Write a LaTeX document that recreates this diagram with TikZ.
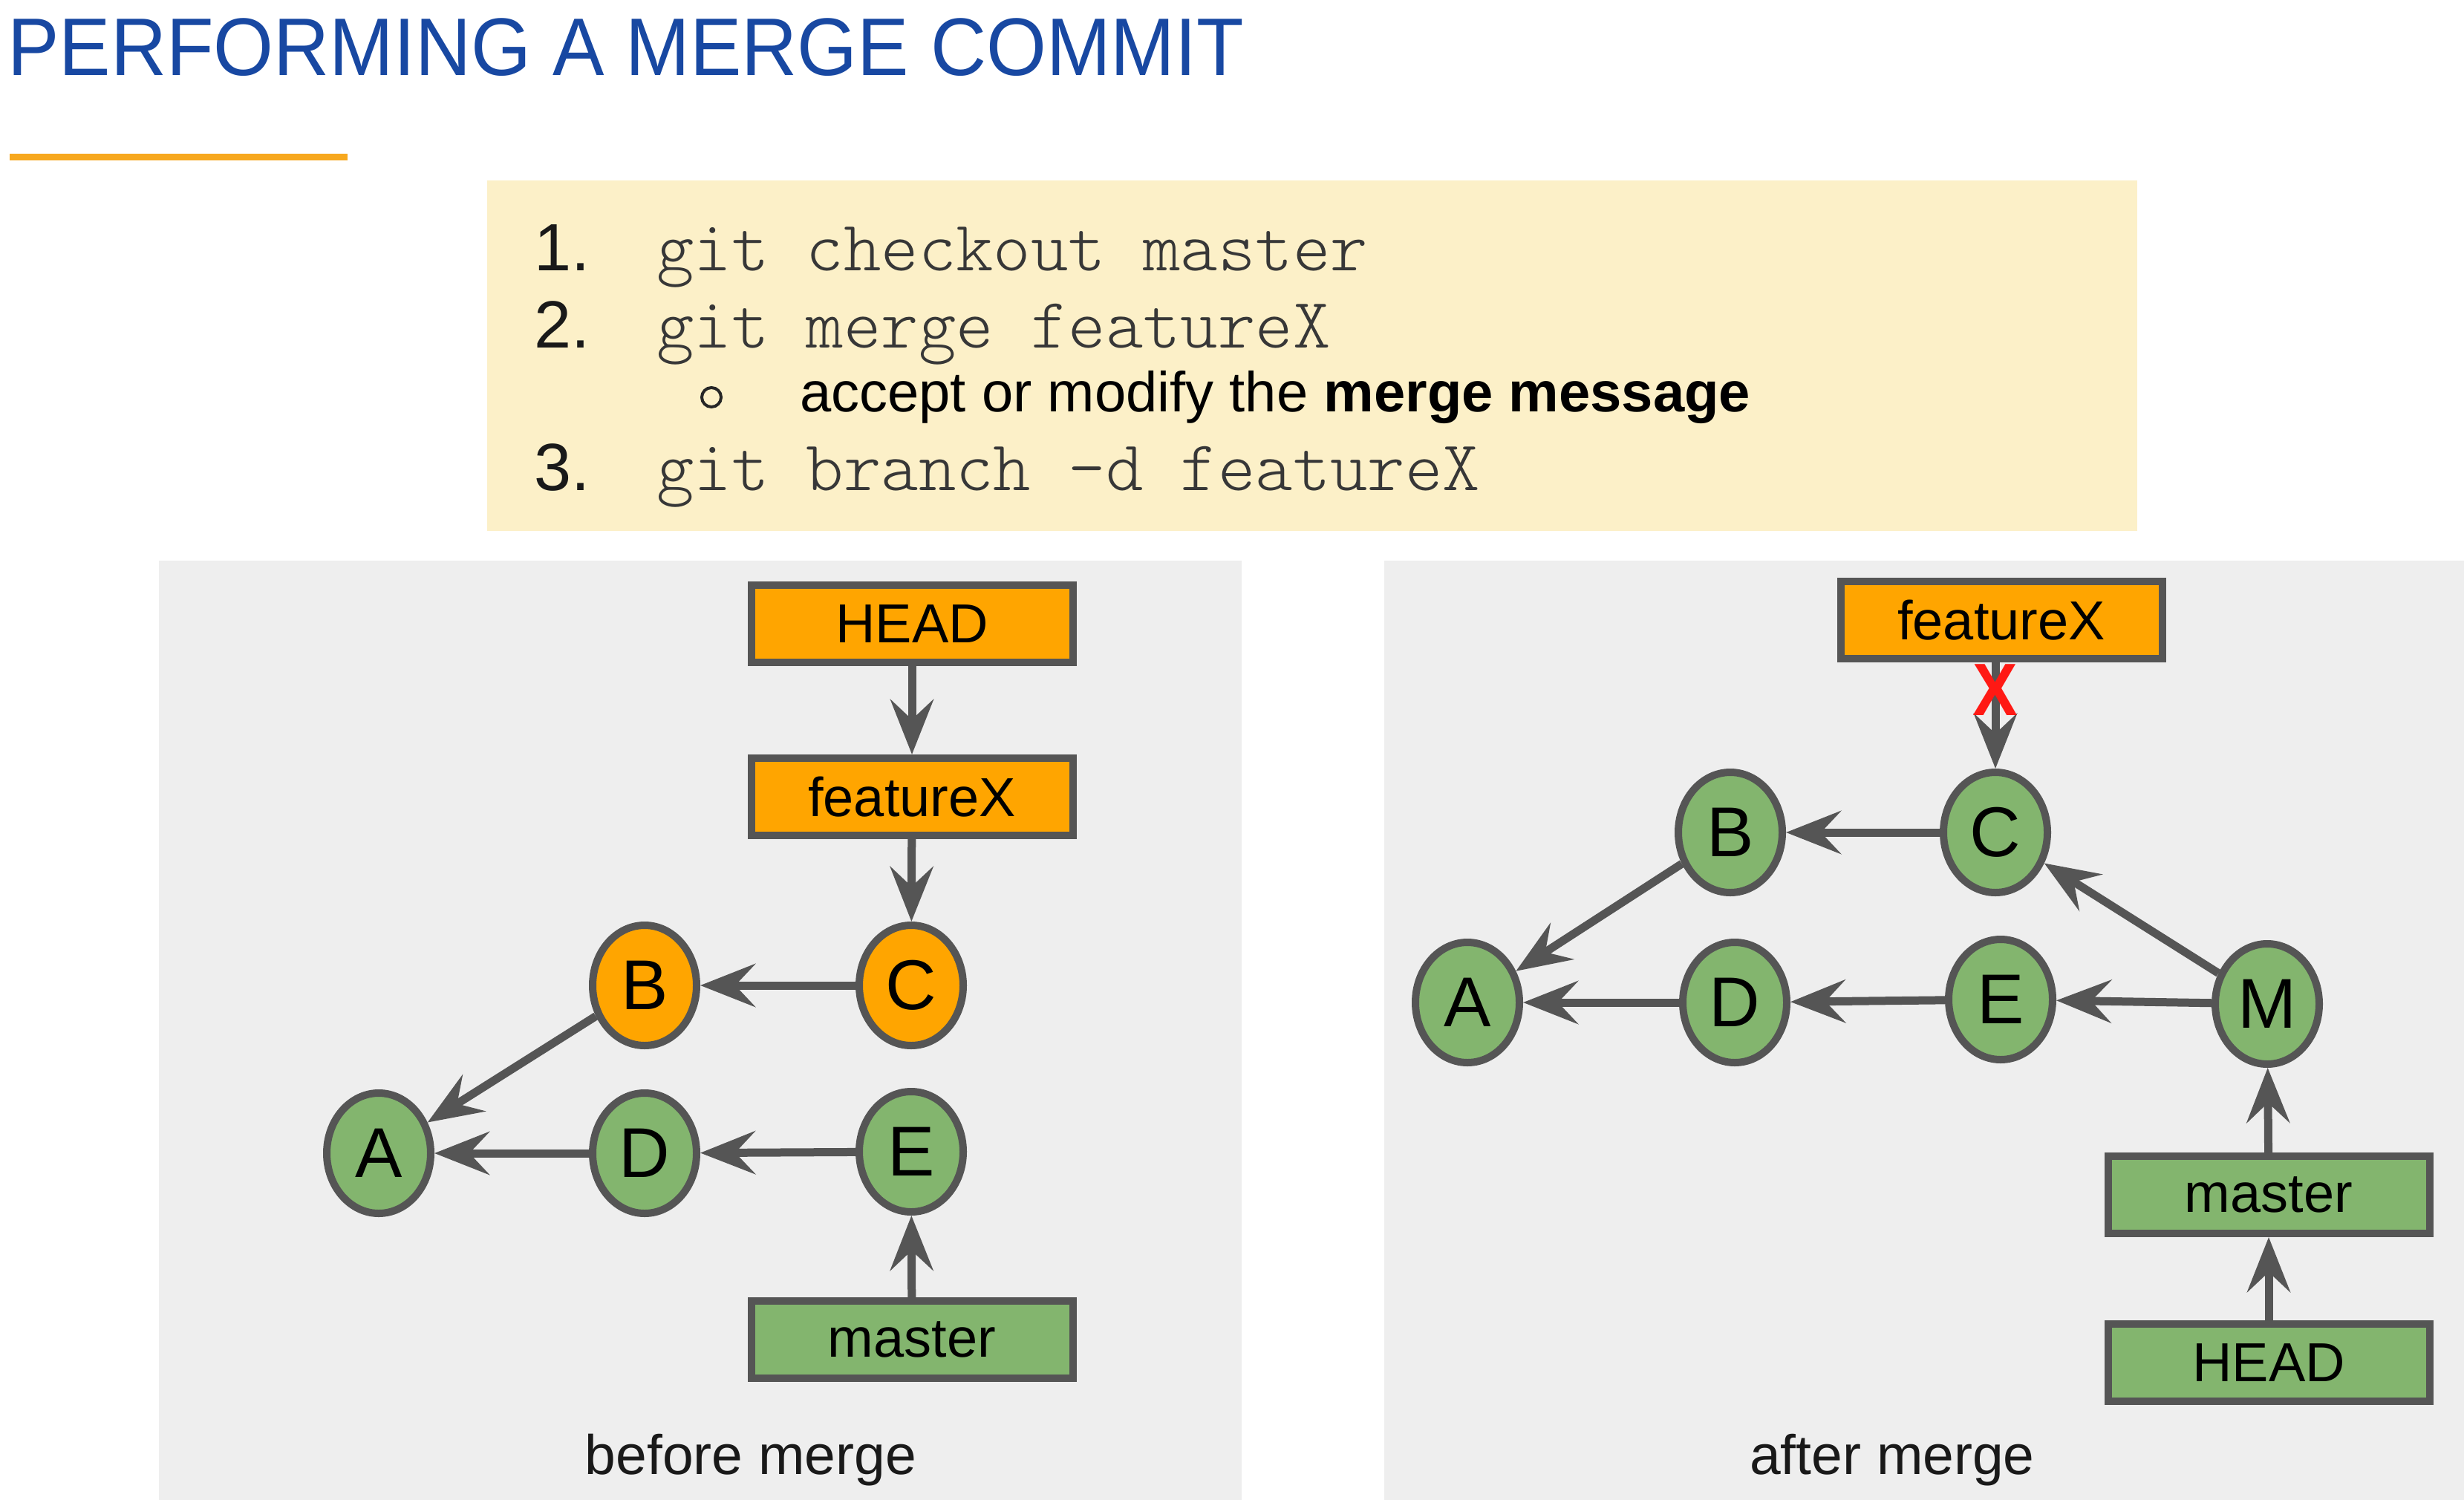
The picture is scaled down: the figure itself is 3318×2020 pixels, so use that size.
\documentclass[tikz,border=0pt]{standalone}
\usepackage{fontspec}
\setmainfont{Liberation Sans}
\newfontfamily\codefont{Latin Modern Mono Light}
\usetikzlibrary{shapes.geometric,arrows.meta}
\definecolor{titleblue}{RGB}{24,72,162}
\definecolor{accent}{RGB}{247,168,30}
\definecolor{cmdbg}{RGB}{252,240,200}
\definecolor{panelbg}{RGB}{238,238,238}
\definecolor{edgegray}{RGB}{85,85,85}
\definecolor{orangefill}{RGB}{255,165,0}
\definecolor{greenfill}{RGB}{131,181,110}
\definecolor{codegray}{RGB}{55,55,55}
\definecolor{xred}{RGB}{255,25,20}
\begin{document}
\begin{tikzpicture}[x=1pt,y=-1pt,
  commit/.style={ellipse,draw=edgegray,line width=10pt,minimum width=140pt,minimum height=162pt,inner sep=0pt,font=\fontsize{95}{100}\selectfont},
  oc/.style={commit,fill=orangefill},
  gc/.style={commit,fill=greenfill},
  refbox/.style={rectangle,draw=edgegray,line width=10pt,minimum width=433pt,minimum height=104pt,inner sep=0pt,font=\fontsize{74}{80}\selectfont},
  oref/.style={refbox,fill=orangefill},
  gref/.style={refbox,fill=greenfill},
  link/.style={draw=edgegray,line width=11pt,-{Stealth[length=74pt,width=58pt,inset=27pt]}},
  numtxt/.style={anchor=base west,inner sep=0pt,text=black!90,font=\fontsize{90}{96}\selectfont},
  codetxt/.style={anchor=base west,inner sep=0pt,text=codegray,font=\codefont\fontsize{96}{100}\selectfont},
  captxt/.style={anchor=base,inner sep=0pt,text=black!90,font=\fontsize{75}{80}\selectfont}
]
\useasboundingbox (0,0) rectangle (3318,2020);
\fill[white] (0,0) rectangle (3318,2020);

% title
\node[anchor=base west,inner sep=0pt,text=titleblue,font=\fontsize{110}{114}\selectfont] (title) at (10,102) {\scalebox{0.946}[1]{PERFORMING A MERGE COMMIT}};
\fill[accent] (13,207) rectangle (468,216);

% command box
\fill[cmdbg] (656,243) rectangle (2878,715);
\node[numtxt] (n1) at (719,364) {1.};
\node[codetxt] (c1) at (884,364) {git checkout master};
\node[numtxt] (n2) at (719,468) {2.};
\node[codetxt] (c2) at (884,468) {git merge featureX};
\node[circle,draw=black!85,line width=4pt,minimum size=26pt,inner sep=0pt] (bul) at (958,535) {};
\node[anchor=base west,inner sep=0pt,text=black,font=\fontsize{76}{80}\selectfont] (msg) at (1077,554) {accept or modify the \textbf{merge message}};
\node[numtxt] (n3) at (719,660) {3.};
\node[codetxt] (c3) at (884,660) {git branch -d featureX};

% panels
\fill[panelbg] (214,755) rectangle (1672,2020);
\fill[panelbg] (1864,755) rectangle (3318,2020);

% left: before merge
\node[oref] (lhead) at (1228,840) {HEAD};
\node[oref] (lfx) at (1228,1073) {featureX};
\node[oc] (lC) at (1227,1327) {C};
\node[oc] (lB) at (868,1327) {B};
\node[gc] (lA) at (510,1553) {A};
\node[gc] (lD) at (868,1553) {D};
\node[gc] (lE) at (1227,1551) {E};
\node[gref] (lmaster) at (1228,1804) {master};
\node[captxt] (lcap) at (1011,1985) {before merge};
\draw[link] (lhead) -- (lfx);
\draw[link] (lfx) -- (lC);
\draw[link] (lC) -- (lB);
\draw[link] (lB) -- (lA);
\draw[link] (lD) -- (lA);
\draw[link] (lE) -- (lD);
\draw[link] (lmaster) -- (lE);

% right: after merge
\node[oref] (rfx) at (2695,835) {featureX};
\node[gc] (rC) at (2687,1121) {C};
\node[gc] (rB) at (2330,1121) {B};
\node[gc] (rA) at (1976,1350) {A};
\node[gc] (rD) at (2336,1350) {D};
\node[gc] (rE) at (2694,1346) {E};
\node[gc] (rM) at (3053,1352) {M};
\node[gref] (rmaster) at (3055,1609) {master};
\node[gref] (rhead) at (3055,1835) {HEAD};
\node[captxt] (rcap) at (2548,1985) {after merge};
\draw[link] (rfx.south -| rC) -- (rC);
\draw[link] (rC) -- (rB);
\draw[link] (rB) -- (rA);
\draw[link] (rD) -- (rA);
\draw[link] (rE) -- (rD);
\draw[link] (rM) -- (rE);
\draw[link] (rM) -- (rC);
\draw[link] (rmaster) -- (rM);
\draw[link] (rhead) -- (rmaster);
\node[inner sep=0pt,text=xred,font=\bfseries\fontsize{100}{100}\selectfont] (rX) at (2687,929) {\scalebox{0.91}[1]{X}};
\end{tikzpicture}
\end{document}
